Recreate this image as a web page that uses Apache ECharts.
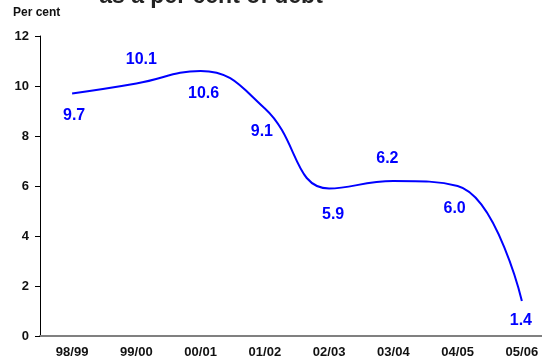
<!DOCTYPE html>
<html>
<head>
<meta charset="utf-8">
<style>
  html, body { margin: 0; padding: 0; background: #ffffff; }
  #chart { width: 542px; height: 364px; }
</style>
<script src="https://cdn.jsdelivr.net/npm/echarts@6/dist/echarts.min.js"></script>
</head>
<body>
<div id="chart"></div>
<script>
// Fiscal years shown along the bottom axis
const years = ['98/99', '99/00', '00/01', '01/02', '02/03', '03/04', '04/05', '05/06'];
// Value for each year, in per cent of debt
const ratio = [9.7, 10.1, 10.6, 9.1, 5.9, 6.2, 6.0, 1.4];
// Vertical axis range and step
const yMin = 0;
const yMax = 12;
const yStep = 2;

// Where each value label sits relative to its point, in pixels
const labelShift = [[2, 22], [5, -24], [3, 23], [-3, 23], [4, 26], [-6, -22], [-3, 23], [-1, 20]];

const FONT = '"Liberation Sans", Arial, Helvetica, sans-serif';
const BLUE = '#0000ff';

const chart = echarts.init(document.getElementById('chart'), null, { renderer: 'canvas' });

chart.setOption({
  animation: false,
  backgroundColor: '#ffffff',
  // the plot runs a little past the right edge of the canvas
  grid: { left: 40, top: 36, bottom: 28, right: -12, outerBoundsMode: 'none', containLabel: false },
  graphic: [
    {
      type: 'text',
      style: {
        text: 'as a per cent of debt',
        x: 211, y: 8,
        align: 'center', verticalAlign: 'bottom',
        font: 'bold 23px ' + FONT,
        fill: '#222222'
      }
    },
    {
      type: 'text',
      style: {
        text: 'Per cent',
        x: 13, y: 13,
        align: 'left', verticalAlign: 'middle',
        font: 'bold 12px ' + FONT,
        fill: '#111111'
      }
    }
  ],
  xAxis: {
    type: 'category',
    data: years,
    boundaryGap: true,
    axisLine: { show: true, lineStyle: { color: '#808080', width: 2 } },
    axisTick: { show: false },
    axisLabel: { margin: 10, fontFamily: FONT, fontWeight: 'bold', fontSize: 13, color: '#111111' },
    splitLine: { show: false }
  },
  yAxis: {
    type: 'value',
    min: yMin, max: yMax, interval: yStep,
    axisLine: { show: true, lineStyle: { color: '#000000', width: 1 } },
    axisTick: { show: true, length: 5, lineStyle: { color: '#000000' } },
    axisLabel: { margin: 11, fontFamily: FONT, fontWeight: 'bold', fontSize: 13, color: '#111111' },
    splitLine: { show: false }
  },
  series: [{
    type: 'line',
    data: ratio.map((v, i) => ({
      value: v,
      label: { offset: labelShift[i] }
    })),
    smooth: 0.45,
    showSymbol: true,
    symbol: 'circle',
    symbolSize: 1,
    itemStyle: { color: 'rgba(0,0,0,0)' },
    lineStyle: { color: BLUE, width: 2 },
    label: {
      show: true,
      position: 'inside',
      formatter: p => p.value.toFixed(1),
      fontFamily: FONT,
      fontWeight: 'bold',
      fontSize: 16,
      color: BLUE
    },
    emphasis: { disabled: true }
  }]
});
</script>
</body>
</html>
